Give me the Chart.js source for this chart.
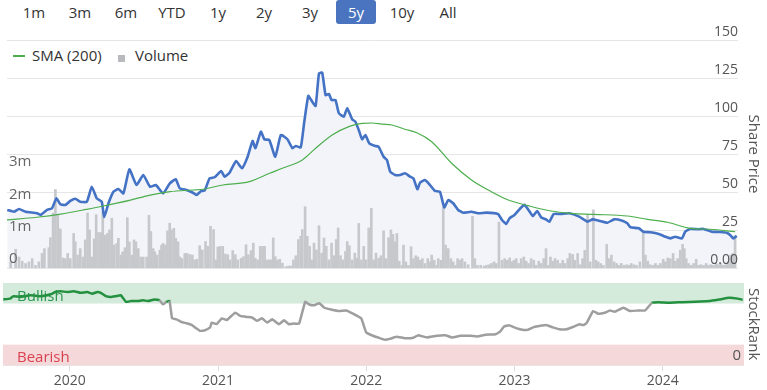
<!DOCTYPE html>
<html lang="en">
<head>
<meta charset="UTF-8" />
<title>Share Price - 5y</title>
<script src="https://cdn.jsdelivr.net/npm/chart.js"></script>
<style>
  body { margin: 0; width: 767px; height: 390px; overflow: hidden; background: #fff;
         font-family: 'Open Sans', sans-serif; color: #333; position: relative; }
  .ranges span { position: absolute; top: 0; width: 40px; height: 24px; line-height: 24px;
                 text-align: center; font-size: 15px; border-radius: 3px; color: #333; }
  .ranges span.active { background: #4a74bf; color: #fff; }
  .legend { position: absolute; top: 45px; font-size: 15px; line-height: 20px; color: #333; }
  canvas { position: absolute; left: 0; }
</style>
</head>
<body>
  <div class="ranges">
    <span style="left:14px">1m</span>
    <span style="left:60px">3m</span>
    <span style="left:106px">6m</span>
    <span style="left:152px">YTD</span>
    <span style="left:198px">1y</span>
    <span style="left:244px">2y</span>
    <span style="left:290px">3y</span>
    <span class="active" style="left:336px">5y</span>
    <span style="left:382px">10y</span>
    <span style="left:428px">All</span>
  </div>

  <!-- legend sits inside the plot, top left -->
  <div style="position:absolute;left:13px;top:55px;width:12px;height:1.5px;background:#4cae4c"></div>
  <div class="legend" style="left:32px">SMA (200)</div>
  <div style="position:absolute;left:118px;top:55px;width:7px;height:7px;background:#b8babe"></div>
  <div class="legend" style="left:135px">Volume</div>

  <canvas id="priceChart" width="767" height="280" style="top:0"></canvas>
  <canvas id="rankChart" width="767" height="114" style="top:276px"></canvas>

<script>
// dates are decimal years
const priceDates = [
  2019.551, 2019.597, 2019.631, 2019.676, 2019.755, 2019.778, 2019.823, 2019.857, 2019.887, 2019.914,
  2019.948, 2019.982, 2020.016, 2020.050, 2020.095, 2020.129, 2020.163, 2020.197, 2020.214, 2020.243,
  2020.277, 2020.311, 2020.345, 2020.386, 2020.435, 2020.481, 2020.527, 2020.567, 2020.617, 2020.663,
  2020.703, 2020.731, 2020.776, 2020.821, 2020.844, 2020.878, 2020.901, 2020.935, 2020.969, 2021.014,
  2021.037, 2021.071, 2021.116, 2021.156, 2021.195, 2021.229, 2021.248, 2021.286, 2021.309, 2021.343,
  2021.384, 2021.422, 2021.467, 2021.501, 2021.524, 2021.558, 2021.581, 2021.610, 2021.637, 2021.660,
  2021.683, 2021.705, 2021.728, 2021.751, 2021.769, 2021.796, 2021.819, 2021.853, 2021.876, 2021.910,
  2021.932, 2021.955, 2021.978, 2022.000, 2022.027, 2022.068, 2022.091, 2022.125, 2022.148, 2022.170,
  2022.204, 2022.238, 2022.272, 2022.306, 2022.329, 2022.356, 2022.374, 2022.408, 2022.442, 2022.476,
  2022.510, 2022.540, 2022.567, 2022.601, 2022.635, 2022.669, 2022.726, 2022.771, 2022.828, 2022.907,
  2022.935, 2022.964, 2022.986, 2023.020, 2023.054, 2023.088, 2023.116, 2023.146, 2023.175, 2023.202,
  2023.236, 2023.259, 2023.288, 2023.338, 2023.395, 2023.463, 2023.520, 2023.554, 2023.599, 2023.656,
  2023.701, 2023.758, 2023.792, 2023.814, 2023.871, 2023.901, 2023.950, 2024.007, 2024.052, 2024.086,
  2024.120, 2024.166, 2024.188, 2024.222, 2024.279, 2024.313, 2024.370, 2024.427, 2024.472, 2024.495,
  2024.517, 2024.540
];
const priceValues = [
  38.2, 37.0, 38.8, 37.0, 36.0, 34.9, 38.2, 39.3, 45.8, 41.9,
  41.5, 44.1, 45.6, 43.6, 43.6, 53.5, 45.8, 43.6, 33.4, 42.6,
  50.2, 52.0, 49.1, 64.9, 54.6, 61.2, 53.5, 54.6, 49.1, 55.7,
  58.4, 52.4, 51.3, 49.5, 48.0, 50.7, 50.9, 59.0, 59.7, 63.8,
  60.1, 62.7, 70.4, 65.6, 73.2, 83.6, 78.8, 89.7, 84.7, 84.2,
  73.2, 87.5, 84.7, 78.8, 80.3, 79.4, 95.2, 113.2, 109.4, 106.6,
  128.1, 128.5, 113.8, 114.5, 110.5, 110.5, 101.8, 99.6, 105.1, 97.8,
  96.3, 90.8, 84.7, 87.5, 82.0, 80.3, 79.8, 73.2, 71.1, 63.4,
  61.2, 61.2, 62.3, 60.1, 59.0, 51.8, 56.1, 57.9, 54.6, 50.7,
  50.2, 39.9, 44.7, 42.6, 38.2, 36.4, 37.0, 36.0, 36.4, 35.5,
  31.6, 29.0, 32.7, 34.9, 38.6, 41.5, 38.2, 34.2, 37.5, 33.4,
  32.0, 30.5, 35.5, 35.5, 36.0, 33.8, 30.5, 32.0, 31.1, 29.8,
  32.0, 31.1, 29.4, 26.8, 26.1, 23.9, 23.5, 22.4, 20.6, 19.5,
  20.6, 19.5, 23.9, 25.7, 25.5, 25.7, 23.9, 23.7, 23.2, 21.7,
  19.5, 21.1
];

const smaDates = [
  2019.549, 2019.753, 2019.916, 2020.093, 2020.209, 2020.393, 2020.529, 2020.665, 2020.821, 2020.889,
  2021.025, 2021.207, 2021.345, 2021.433, 2021.569, 2021.660, 2021.773, 2021.887, 2021.978, 2022.046,
  2022.114, 2022.182, 2022.270, 2022.352, 2022.454, 2022.590, 2022.726, 2022.862, 2022.978, 2023.114,
  2023.270, 2023.406, 2023.563, 2023.794, 2023.930, 2024.066, 2024.222, 2024.359, 2024.529
];
const smaValues = [
  31.6, 33.4, 35.5, 38.6, 40.8, 44.7, 48.0, 50.2, 51.3, 51.8,
  54.6, 56.8, 62.3, 65.6, 71.1, 78.8, 87.5, 93.0, 95.2, 95.4,
  94.6, 94.1, 91.3, 89.0, 83.1, 68.9, 57.9, 50.2, 44.7, 41.0,
  37.5, 36.0, 35.3, 34.2, 32.0, 30.1, 26.1, 25.5, 23.9
];

const volDates = [
  2019.574, 2019.608, 2019.631, 2019.653, 2019.676, 2019.699, 2019.721, 2019.744, 2019.767, 2019.789,
  2019.805, 2019.835, 2019.846, 2019.864, 2019.880, 2019.896, 2019.914, 2019.932, 2019.948, 2019.964,
  2019.982, 2020.005, 2020.016, 2020.032, 2020.050, 2020.068, 2020.084, 2020.100, 2020.114, 2020.130,
  2020.145, 2020.159, 2020.175, 2020.191, 2020.204, 2020.220, 2020.236, 2020.250, 2020.266, 2020.282,
  2020.300, 2020.311, 2020.327, 2020.340, 2020.356, 2020.372, 2020.386, 2020.402, 2020.418, 2020.431,
  2020.447, 2020.463, 2020.481, 2020.504, 2020.520, 2020.533, 2020.549, 2020.560, 2020.576, 2020.594,
  2020.606, 2020.617, 2020.633, 2020.647, 2020.662, 2020.674, 2020.690, 2020.703, 2020.719, 2020.731,
  2020.746, 2020.765, 2020.780, 2020.798, 2020.817,
  2020.833, 2020.848, 2020.867, 2020.885, 2020.907, 2020.923, 2020.941, 2020.962, 2020.980, 2020.991,
  2021.007, 2021.025, 2021.043, 2021.059, 2021.075, 2021.093, 2021.111, 2021.127, 2021.150, 2021.166,
  2021.184, 2021.200, 2021.218, 2021.234, 2021.247, 2021.263, 2021.281, 2021.297, 2021.311, 2021.325,
  2021.343, 2021.356, 2021.370, 2021.384, 2021.399, 2021.415, 2021.433, 2021.456, 2021.474, 2021.490,
  2021.508, 2021.524, 2021.542, 2021.558, 2021.569, 2021.588, 2021.603, 2021.619, 2021.633, 2021.649,
  2021.665, 2021.683, 2021.701, 2021.717, 2021.733, 2021.751, 2021.769, 2021.785, 2021.801, 2021.814,
  2021.830, 2021.846, 2021.864, 2021.876, 2021.891, 2021.910, 2021.928, 2021.944, 2021.955, 2021.973,
  2021.989, 2022.005, 2022.023, 2022.041, 2022.057, 2022.073, 2022.091, 2022.107,
  2022.125, 2022.141, 2022.159, 2022.175, 2022.189, 2022.204, 2022.216, 2022.232, 2022.250, 2022.261,
  2022.277, 2022.295, 2022.313, 2022.329, 2022.345, 2022.359, 2022.374, 2022.390, 2022.408, 2022.427,
  2022.442, 2022.454, 2022.472, 2022.488, 2022.499, 2022.517, 2022.533, 2022.549, 2022.567, 2022.585,
  2022.601, 2022.617, 2022.631, 2022.647, 2022.662, 2022.681, 2022.703, 2022.733, 2022.749, 2022.767,
  2022.789, 2022.812, 2022.828, 2022.844, 2022.862, 2022.880, 2022.896, 2022.914, 2022.935, 2022.953,
  2022.971, 2022.987, 2023.003, 2023.016, 2023.032, 2023.048, 2023.066, 2023.084, 2023.100, 2023.116,
  2023.134, 2023.152, 2023.168, 2023.186, 2023.202, 2023.220, 2023.236, 2023.252, 2023.266, 2023.281,
  2023.297, 2023.315, 2023.334, 2023.350, 2023.365, 2023.384, 2023.399,
  2023.418, 2023.433, 2023.452, 2023.470, 2023.486, 2023.501, 2023.520, 2023.538, 2023.560, 2023.576,
  2023.592, 2023.610, 2023.628, 2023.651, 2023.667, 2023.683, 2023.701, 2023.719, 2023.735, 2023.751,
  2023.769, 2023.787, 2023.803, 2023.819, 2023.837, 2023.855, 2023.878, 2023.901, 2023.916, 2023.932,
  2023.950, 2023.969, 2023.984, 2024.000, 2024.018, 2024.037, 2024.052, 2024.068, 2024.086, 2024.105,
  2024.120, 2024.136, 2024.154, 2024.170, 2024.182, 2024.195, 2024.211, 2024.229, 2024.245, 2024.263,
  2024.279, 2024.295, 2024.313, 2024.331, 2024.347, 2024.363, 2024.381, 2024.399, 2024.415, 2024.431,
  2024.449, 2024.465, 2024.483, 2024.499, 2024.513, 2024.529
];
// volume in millions
const volValues = [
  0.19, 0.58, 0.34, 0.21, 0.14, 0.19, 0.29, 0.08, 0.19, 0.45,
  0.6, 0.63, 0.94, 1.7, 2.43, 1.67, 1.21, 0.31, 0.29, 0.45,
  0.29, 1.07, 0.81, 0.4, 0.6, 0.34, 0.87, 1.7, 1.18, 0.34,
  0.9, 1.65, 1.1, 1.1, 1.75, 1.02, 1.07, 1.18, 1.54, 0.71,
  0.76, 0.92, 0.4, 0.5, 0.63, 1.56, 0.81, 0.4, 0.87, 0.81,
  0.6, 0.34, 0.34, 0.34, 1.63, 1.13, 0.6, 0.5, 0.4, 0.55,
  0.71, 0.76, 0.71, 1.15, 1.39, 1.18, 1.23, 0.92, 0.81, 0.34,
  0.29, 0.45, 0.45, 0.42, 0.4,
  0.25, 0.27, 0.69, 0.56, 0.82, 0.67, 1.29, 1.19, 0.25, 0.65,
  0.67, 0.67, 0.43, 0.41, 0.25, 0.54, 0.41, 0.25, 0.3, 0.35,
  0.72, 0.41, 0.54, 0.77, 0.3, 0.25, 0.67, 0.67, 0.67, 0.25,
  0.25, 0.25, 0.93, 0.35, 0.25, 0.27, 0.15, 0.04, 0.06, 0.06,
  0.25, 0.38, 0.88, 0.98, 1.19, 1.9, 0.98, 0.67, 0.25, 0.77,
  0.56, 1.31, 0.46, 0.93, 0.67, 0.25, 0.77, 0.38, 0.88, 1.24,
  0.38, 0.25, 0.51, 0.82, 0.69, 0.25, 0.46, 0.3, 1.38, 0.25,
  0.67, 0.25, 1.24, 1.85, 0.25, 0.46, 0.3, 0.38,
  1.15, 0.29, 0.94, 1.18, 1.04, 0.81, 1.07, 0.21, 0.08, 0.71,
  0.19, 0.08, 0.66, 0.29, 0.38, 0.34, 0.24, 0.29, 0.14, 0.29,
  0.19, 0.4, 0.24, 0.08, 0.29, 0.24, 1.9, 0.71, 0.6, 0.29,
  0.19, 0.08, 0.29, 0.24, 0.29, 0.19, 0.1, 1.6, 0.29, 0.08,
  0.08, 0.06, 0.08, 0.1, 0.14, 0.19, 0.14, 1.42, 0.24, 0.29,
  0.24, 0.31, 0.19, 0.24, 0.29, 0.14, 0.29, 0.34, 0.21, 0.14,
  0.29, 0.24, 0.08, 0.21, 0.14, 0.29, 0.6, 0.08, 0.34, 0.21,
  0.29, 0.24, 0.14, 0.24, 0.14, 0.29, 0.45,
  0.42, 0.24, 0.45, 0.1, 0.29, 0.55, 1.65, 0.19, 1.8, 0.24,
  0.19, 0.14, 0.08, 0.73, 0.29, 0.4, 0.19, 0.14, 0.08, 0.14,
  0.08, 0.1, 0.08, 0.14, 0.1, 0.08, 0.19, 1.13, 0.4, 0.21,
  0.1, 0.08, 0.14, 0.08, 0.14, 0.27, 0.19, 0.31, 0.29, 0.45,
  0.21, 0.29, 0.55, 0.73, 0.6, 0.29, 0.14, 0.08, 0.14, 0.27,
  0.08, 0.1, 0.08, 0.14, 0.08, 0.1, 0.08, 0.14, 0.1, 0.14,
  0.08, 0.1, 0.19, 0.4, 0.45, 1.0
];

const rankDates = [
  2019.551, 2019.597, 2019.619, 2019.665, 2019.733, 2019.801, 2019.869, 2019.903, 2019.937, 2019.982,
  2020.027, 2020.073, 2020.118, 2020.152, 2020.186, 2020.209, 2020.243, 2020.277, 2020.311, 2020.345,
  2020.379, 2020.413, 2020.459, 2020.493, 2020.527, 2020.571, 2020.605, 2020.629, 2020.651, 2020.673,
  2020.690, 2020.719, 2020.753, 2020.787, 2020.821, 2020.844, 2020.878, 2020.912, 2020.946, 2020.957,
  2020.991, 2021.025, 2021.059, 2021.116, 2021.150, 2021.195, 2021.229, 2021.263, 2021.297, 2021.331,
  2021.365, 2021.411, 2021.445, 2021.479, 2021.513, 2021.547, 2021.588, 2021.615, 2021.649, 2021.683,
  2021.717, 2021.762, 2021.819, 2021.864, 2021.910, 2021.966, 2022.000, 2022.046, 2022.091, 2022.125,
  2022.159, 2022.204, 2022.261, 2022.318, 2022.352, 2022.408, 2022.476, 2022.533, 2022.578, 2022.635,
  2022.703, 2022.748, 2022.805, 2022.873, 2022.903, 2022.930, 2022.964, 2022.998, 2023.054, 2023.088,
  2023.134, 2023.214, 2023.259, 2023.304, 2023.350, 2023.395, 2023.440, 2023.463, 2023.486, 2023.531,
  2023.565, 2023.610, 2023.644, 2023.678, 2023.735, 2023.780, 2023.837, 2023.882, 2023.928, 2023.973,
  2024.041, 2024.132, 2024.222, 2024.313, 2024.381, 2024.449, 2024.506, 2024.540
];
const rankValues = [
  80, 81, 84, 83, 85, 84, 86, 89, 90, 89,
  90, 88, 89, 87, 89, 88, 84, 83, 84, 85,
  77, 78, 78, 79, 78, 80, 79, 74, 77, 78,
  57, 55.8, 52.6, 51, 49, 46, 41.8, 42.5, 45.8, 51.8,
  50, 57, 55, 63.9, 60, 58.7, 58, 54, 57, 51.8,
  55.8, 49.8, 54.6, 49.8, 50.6, 50.6, 77.1, 73.9, 73, 75.5,
  69.9, 67.8, 65.9, 66.6, 62.7, 57, 39.8, 35.8, 32.9, 31,
  32, 34.6, 32.9, 33.5, 36.5, 33.7, 35.8, 36.5, 33.7, 35.8,
  35.8, 35, 37, 37.7, 41, 47, 48.6, 46, 43, 43,
  46.6, 49, 46, 43.7, 43.7, 46.6, 49.8, 48.8, 51, 65.9,
  62.7, 63.9, 66.6, 65, 69.9, 65.9, 66.6, 66.6, 75.9, 76.7,
  76, 76.7, 77.1, 78, 79.9, 82, 81, 79.5
];

const yearTicks = [2020, 2021, 2022, 2023, 2024];
const priceTicks = [0, 25, 50, 75, 100, 125, 150];
const volTicks = [0, 1, 2, 3];
const rankTicks = [0, 100];
const rankBands = [[75, 100, 'Bullish'], [0, 25, 'Bearish']];
const xMin = 2019.549, xMax = 2024.549;

Chart.defaults.font.family = "'Open Sans', sans-serif";
Chart.defaults.color = '#555';

const pairs = (xs, ys) => xs.map((x, i) => ({ x: x, y: ys[i] }));
const GRID = '#e6e6e6';

new Chart(document.getElementById('priceChart'), {
  type: 'bar',
  data: {
    datasets: [
      {
        type: 'line', label: 'SMA (200)', data: pairs(smaDates, smaValues), yAxisID: 'y',
        borderColor: '#4cae4c', borderWidth: 1.2, pointRadius: 0,
        cubicInterpolationMode: 'monotone', order: 0
      },
      {
        type: 'line', label: 'Price', data: pairs(priceDates, priceValues), yAxisID: 'y',
        borderColor: '#4472c4', borderWidth: 2.6, pointRadius: 0, tension: 0.15,
        fill: 'origin', backgroundColor: '#f2f4fa', order: 1
      },
      {
        type: 'bar', label: 'Volume', data: pairs(volDates, volValues), yAxisID: 'yVol',
        backgroundColor: '#c6c8cc', barThickness: 2, order: 2
      }
    ]
  },
  options: {
    responsive: false,
    animation: false,
    layout: { padding: { top: 40, left: 3, right: 1, bottom: 12 } },
    plugins: { legend: { display: false }, tooltip: { enabled: false }, filler: { drawTime: 'beforeDatasetsDraw' } },
    scales: {
      x: { type: 'linear', min: xMin, max: xMax, offset: false, display: false },
      y: {
        position: 'right', min: 0, max: 150,
        afterBuildTicks: s => { s.ticks = priceTicks.map(v => ({ value: v })); },
        ticks: { mirror: true, padding: 0, labelOffset: -8, z: 1, font: { size: 14 },
                 callback: v => v === 0 ? '0.00' : String(v) },
        grid: { color: GRID, drawTicks: false },
        border: { display: false },
        title: { display: true, text: 'Share Price', font: { size: 15 }, padding: { top: 4, bottom: 6 } }
      },
      yVol: {
        position: 'left', min: 0, max: 7.06,
        afterBuildTicks: s => { s.ticks = volTicks.map(v => ({ value: v })); },
        ticks: { mirror: true, padding: 2, labelOffset: -9, z: 1, font: { size: 15 }, color: '#666',
                 callback: v => v === 0 ? '0' : v + 'm' },
        grid: { display: false, drawTicks: false },
        border: { display: false }
      }
    }
  }
});

const bandPlugin = {
  id: 'rankBands',
  beforeDatasetsDraw(chart) {
    const { ctx, chartArea, scales } = chart;
    const fills = ['#d4eadb', '#f5d8da'];
    const inks = ['#2f9651', '#d9414f'];
    ctx.save();
    rankBands.forEach(([from, to, label], i) => {
      const top = scales.y.getPixelForValue(to);
      const bottom = scales.y.getPixelForValue(from);
      ctx.fillStyle = fills[i];
      ctx.fillRect(chartArea.left, top, chartArea.right - chartArea.left, bottom - top);
      ctx.fillStyle = inks[i];
      ctx.font = "15px 'Open Sans', sans-serif";
      ctx.textBaseline = 'middle';
      ctx.fillText(label, chartArea.left + 14, (top + bottom) / 2 + 3);
    });
    ctx.restore();
  }
};

new Chart(document.getElementById('rankChart'), {
  type: 'line',
  data: {
    datasets: [{
      label: 'StockRank', data: pairs(rankDates, rankValues),
      borderColor: '#9e9e9e', borderWidth: 2.5, pointRadius: 0, tension: 0.1,
      segment: {
        borderColor: c => (c.p0.parsed.y >= 75 && c.p1.parsed.y >= 75) ? '#23913f' : '#9e9e9e'
      }
    }]
  },
  plugins: [bandPlugin],
  options: {
    responsive: false,
    animation: false,
    layout: { padding: { top: 7, left: 3, right: 1, bottom: 0 } },
    plugins: { legend: { display: false }, tooltip: { enabled: false } },
    scales: {
      x: {
        type: 'linear', min: xMin, max: xMax,
        afterBuildTicks: s => { s.ticks = yearTicks.map(v => ({ value: v })); },
        ticks: { font: { size: 14 }, padding: 1, callback: v => String(v) },
        grid: { drawOnChartArea: false, tickLength: 6, color: '#dcdcdc' },
        border: { display: false }
      },
      y: {
        position: 'right', min: 0, max: 100,
        afterBuildTicks: s => { s.ticks = rankTicks.map(v => ({ value: v })); },
        ticks: { mirror: true, padding: -3, labelOffset: -9, z: 1, font: { size: 15 },
                 callback: v => v === 0 ? '0' : '' },
        grid: { color: GRID, drawTicks: false },
        border: { display: false },
        title: { display: true, text: 'StockRank', font: { size: 15 }, padding: { top: 4, bottom: 6 } }
      }
    }
  }
});
</script>
</body>
</html>
